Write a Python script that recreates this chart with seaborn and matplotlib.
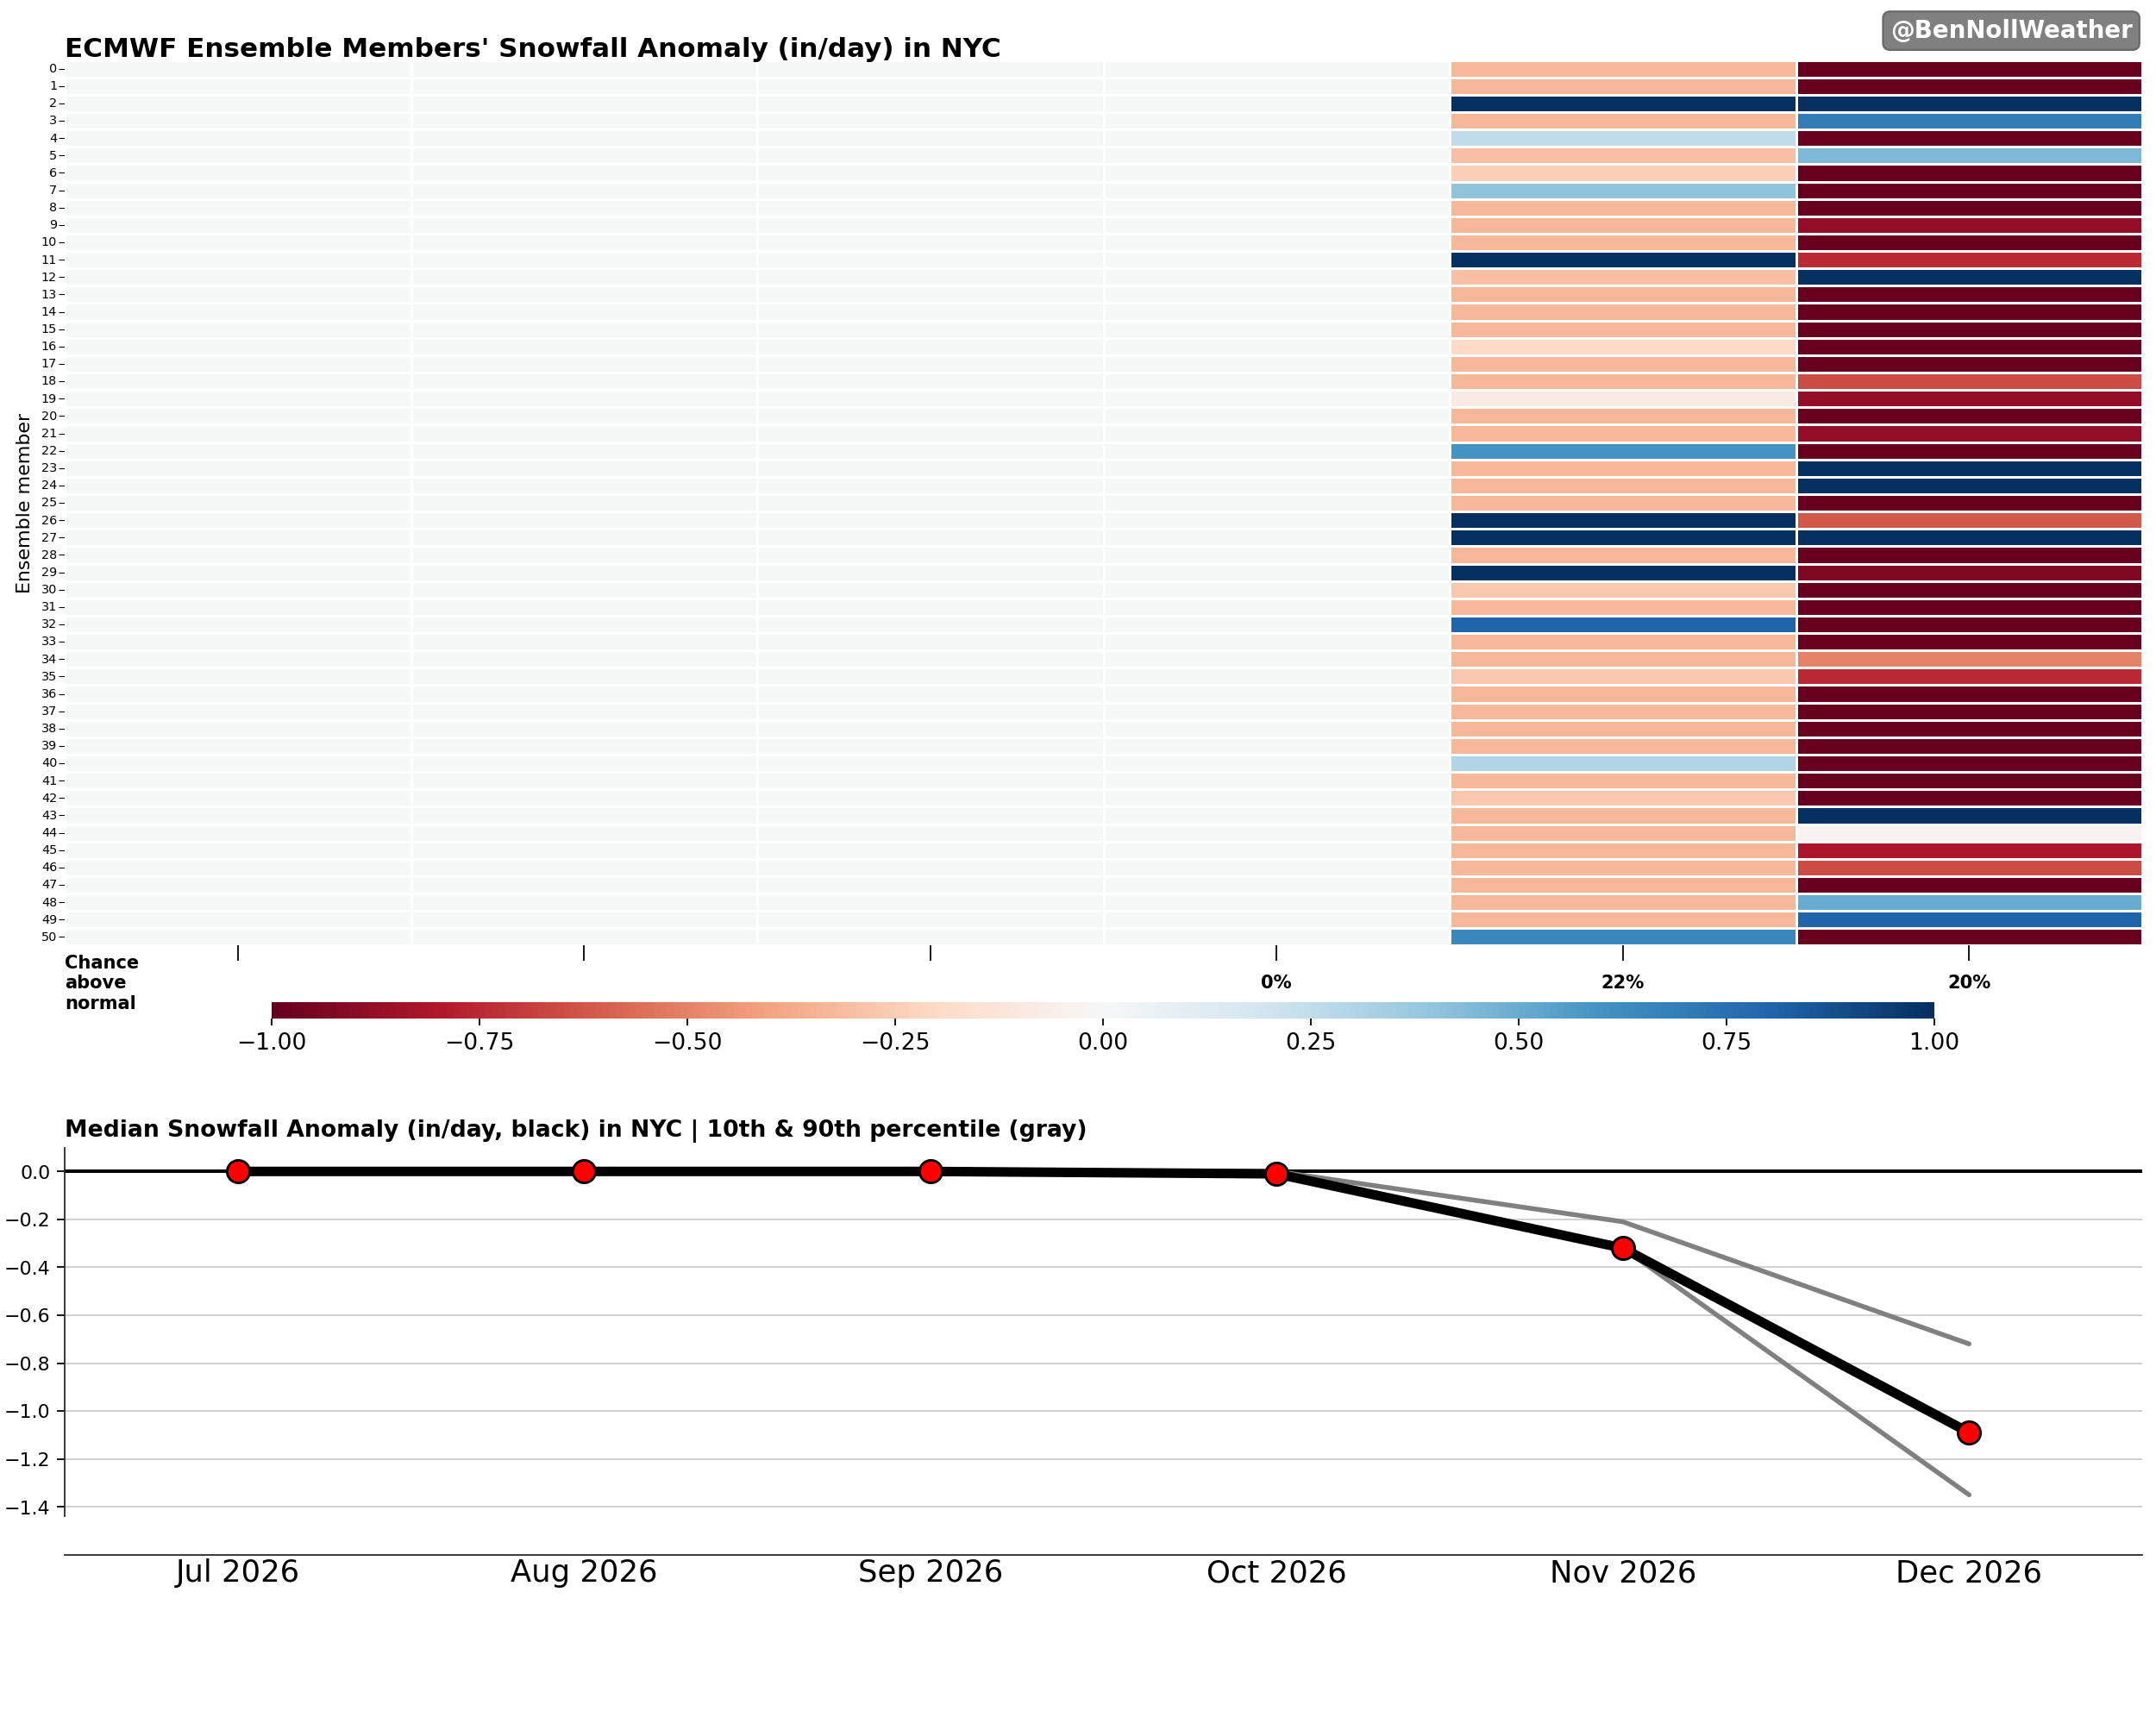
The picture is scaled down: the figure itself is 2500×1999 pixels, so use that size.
import numpy as np
import pandas as pd
import matplotlib
matplotlib.use("Agg")
import matplotlib.pyplot as plt
import seaborn as sns

months = ["Jul 2026", "Aug 2026", "Sep 2026", "Oct 2026", "Nov 2026", "Dec 2026"]
members = list(range(51))
jul = [0.0] * 51
aug = [0.0] * 51
sep = [0.0] * 51
oct_ = [0.0] * 51
nov = [-0.33, -0.33, 1.0, -0.33, 0.25, -0.3, -0.25, 0.4, -0.33, -0.33,
       -0.33, 1.0, -0.3, -0.33, -0.33, -0.33, -0.2, -0.33, -0.33, -0.08,
       -0.33, -0.33, 0.6, -0.33, -0.33, -0.33, 1.0, 1.0, -0.33, 1.0,
       -0.27, -0.33, 0.8, -0.33, -0.33, -0.27, -0.33, -0.33, -0.33, -0.33,
       0.3, -0.33, -0.27, -0.33, -0.33, -0.33, -0.33, -0.33, -0.33, -0.33, 0.65]
dec = [-1, -1, 1, 0.7, -1, 0.45, -1, -1, -1, -0.88,
       -1, -0.75, 1, -1, -1, -1, -1, -1, -0.65, -0.88,
       -1, -0.88, -1, 1, 1, -1, -0.62, 1, -1, -0.93,
       -1, -1, -1, -1, -0.5, -0.75, -1, -1, -1, -1,
       -1, -1, -1, 1, -0.03, -0.82, -0.65, -1, 0.5, 0.8, -1]
median = [0.0, 0.0, 0.0, -0.01, -0.32, -1.09]
p90 = [0.0, 0.0, 0.0, 0.0, -0.21, -0.72]
p10 = [0.0, 0.0, 0.0, -0.01, -0.32, -1.35]

df = pd.DataFrame({m: v for m, v in zip(months, [jul, aug, sep, oct_, nov, dec])}, index=members)

sns.set_style("white")
plt.rcParams['font.family'] = ['DejaVu Sans']
plt.rcParams['text.color'] = 'black'
plt.rcParams['xtick.color'] = 'black'
plt.rcParams['ytick.color'] = 'black'
plt.rcParams['axes.labelcolor'] = 'black'
fig = plt.figure(figsize=(15.68, 12.54), dpi=159.44)
ax = fig.add_axes([0.030, 0.4514, 0.9636, 0.5136])
cax = fig.add_axes([0.126, 0.409, 0.771, 0.0096])
sns.heatmap(df, ax=ax, cmap="RdBu", vmin=-1, vmax=1, linewidths=0.6, linecolor="white",
            cbar_ax=cax, cbar_kws={"orientation": "horizontal"})
ax.set_yticks(np.arange(51) + 0.5)
ax.set_yticklabels([str(m) for m in members], rotation=0, fontsize=6.5)
ax.tick_params(axis='y', length=3, width=0.5, pad=1, left=True)
ax.set_ylabel("Ensemble member", fontsize=10)
ax.set_xticks(np.arange(6) + 0.5)
labels = []
for i, m in enumerate(months):
    v = np.array(df[m])
    if i < 3:
        labels.append("")
    else:
        labels.append(f"{round(100 * np.mean(v > 0))}%")
ax.set_xticklabels(labels, fontsize=9.5, fontweight="bold")
ax.tick_params(axis='x', length=8, width=0.8, pad=7, bottom=True)
ax.set_xlabel("")
ax.text(0.0, -0.01, "Chance\nabove\nnormal", transform=ax.transAxes, fontsize=9.5,
        fontweight="bold", va="top", ha="left")
ax.set_title("ECMWF Ensemble Members' Snowfall Anomaly (in/day) in NYC", loc="left",
             fontsize=14, fontweight="bold", pad=2)
cax.tick_params(labelsize=12)
cax.set_xticks(np.arange(-1, 1.01, 0.25))
fig.text(0.989, 0.982, "@BenNollWeather", ha="right", va="center", fontsize=12.5,
         fontweight="bold", color="white",
         bbox=dict(boxstyle="round,pad=0.3", fc="gray", ec="dimgray"))

ax2 = fig.add_axes([0.030, 0.1204, 0.9636, 0.2136])
x = np.arange(6)
ax2.axhline(0, color="black", lw=1.8, zorder=1)
for y in np.arange(-1.4, 0.01, 0.2):
    ax2.axhline(y, color="#cccccc", lw=0.8, zorder=0)
sns.lineplot(x=x, y=p90, ax=ax2, color="gray", lw=2.5, zorder=2)
sns.lineplot(x=x, y=p10, ax=ax2, color="gray", lw=2.5, zorder=2)
sns.lineplot(x=x, y=median, ax=ax2, color="black", lw=5, zorder=3)
ax2.scatter(x, median, s=140, color="red", edgecolor="black", linewidth=1.3, zorder=4)
ax2.set_xlim(-0.5, 5.5)
ax2.set_ylim(-1.44, 0.0975)
yt = np.arange(-1.4, 0.01, 0.2)
ax2.set_yticks(yt)
ax2.set_yticklabels(["0.0" if abs(v) < 1e-9 else f"{v:.1f}".replace("-", "\u2212") for v in yt])
ax2.set_xticks(x)
ax2.set_xticklabels(months)
ax2.tick_params(axis='x', length=0, pad=2, labelsize=16)
ax2.tick_params(axis='y', length=4, left=True, labelsize=10)
for s in ["top", "right"]:
    ax2.spines[s].set_visible(False)
ax2.spines["bottom"].set_position(("outward", 20))
ax2.spines["left"].set_bounds(-1.44, 0.0975)
ax2.set_xlabel("")
ax2.set_title("Median Snowfall Anomaly (in/day, black) in NYC | 10th & 90th percentile (gray)",
              loc="left", fontsize=12, fontweight="bold", pad=6)

fig.savefig("out.png", dpi=159.44)
